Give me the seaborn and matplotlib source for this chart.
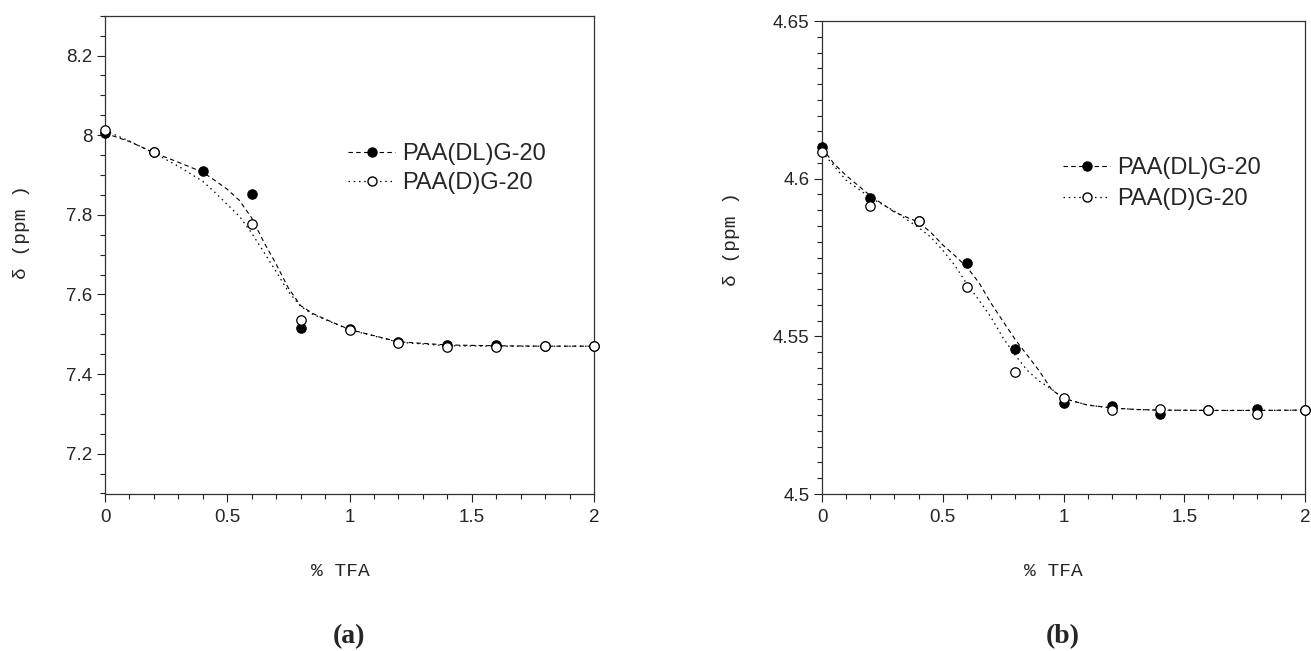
import numpy as np
import pandas as pd
import seaborn as sns
import matplotlib
matplotlib.use("Agg")
import matplotlib.pyplot as plt
from matplotlib.lines import Line2D
from matplotlib.ticker import MultipleLocator, FuncFormatter

# ---------------- data ----------------
tfa = [0.0, 0.2, 0.4, 0.6, 0.8, 1.0, 1.2, 1.4, 1.6, 1.8, 2.0]

a_dl = [8.005, 7.958, 7.910, 7.853, 7.515, 7.513, 7.480, 7.474, 7.474, 7.470, 7.470]
a_d = [8.013, 7.958, np.nan, 7.777, 7.537, 7.510, 7.479, 7.468, 7.468, 7.470, 7.470]

b_dl = [4.6100, 4.5940, 4.5866, 4.5731, 4.5460, 4.5287, 4.5279, 4.5254, 4.5266, 4.5270, 4.5266]
b_d = [4.6085, 4.5913, 4.5866, 4.5657, 4.5388, 4.5303, 4.5266, 4.5268, 4.5266, 4.5253, 4.5266]

# fitted curves as drawn in the picture
a_fit_x = [0, 0.1, 0.2, 0.3, 0.4, 0.45, 0.5, 0.55, 0.6, 0.65, 0.7, 0.75, 0.8, 0.85,
           0.9, 1.0, 1.2, 1.4, 1.6, 1.8, 2.0]
a_fit_dl = [8.005, 7.984, 7.956, 7.932, 7.907, 7.886, 7.864, 7.836, 7.792, 7.731, 7.676,
            7.616, 7.572, 7.552, 7.538, 7.512, 7.481, 7.473, 7.471, 7.470, 7.470]
a_fit_d = [8.012, 7.985, 7.955, 7.922, 7.884, 7.856, 7.826, 7.796, 7.754, 7.706, 7.657,
           7.607, 7.570, 7.550, 7.537, 7.511, 7.480, 7.471, 7.470, 7.470, 7.470]

b_fit_x = [0, 0.05, 0.1, 0.2, 0.3, 0.4, 0.45, 0.5, 0.55, 0.6, 0.65, 0.7, 0.75, 0.8,
           0.85, 0.9, 0.95, 1.0, 1.1, 1.2, 1.3, 1.4, 1.6, 1.8, 2.0]
b_fit_dl = [4.6098, 4.6047, 4.6010, 4.5946, 4.5894, 4.5862, 4.5830, 4.5790, 4.5756,
            4.5720, 4.5670, 4.5605, 4.5547, 4.5490, 4.5440, 4.5390, 4.5332, 4.5303,
            4.5282, 4.5273, 4.5268, 4.5266, 4.5265, 4.5265, 4.5266]
b_fit_d = [4.6085, 4.6040, 4.5995, 4.5940, 4.5897, 4.5845, 4.5815, 4.5773, 4.5725,
           4.5666, 4.5615, 4.5560, 4.5495, 4.5440, 4.5392, 4.5358, 4.5333, 4.5303,
           4.5282, 4.5273, 4.5268, 4.5266, 4.5265, 4.5265, 4.5266]

labels = ["PAA(DL)G-20", "PAA(D)G-20"]
x_label = "% TFA"
y_label = "δ (ppm )"
panel_tags = ["(a)", "(b)"]

# ---------------- styling ----------------
sns.set_theme(style="white")
plt.rcParams["font.family"] = ["Liberation Sans", "DejaVu Sans"]
plt.rcParams["xtick.direction"] = "out"
plt.rcParams["ytick.direction"] = "out"

W, H = 1311, 651
fig = plt.figure(figsize=(W / 100, H / 100), dpi=100)


def px_rect(x0, y0, x1, y1):
    return [x0 / W, 1 - y1 / H, (x1 - x0) / W, (y1 - y0) / H]


ax_a = fig.add_axes(px_rect(105, 15.7, 594, 493.5))
ax_b = fig.add_axes(px_rect(822, 21, 1305, 494))

dash_ls = (0, (4.0, 3.0))
dot_ls = (0, (1.2, 3.0))
ms_area = 46


def draw(ax, fx, fdl, fd, ydl, yd):
    sns.lineplot(x=fx, y=fdl, ax=ax, color="black", lw=0.8, linestyle=dash_ls,
                 sort=False, estimator=None, zorder=2)
    sns.lineplot(x=fx, y=fd, ax=ax, color="black", lw=0.9, linestyle=dot_ls,
                 sort=False, estimator=None, zorder=2)
    df = pd.DataFrame({"x": tfa, "dl": ydl, "d": yd})
    sns.scatterplot(data=df, x="x", y="dl", ax=ax, color="black", edgecolor="black",
                    s=ms_area, linewidth=0.8, zorder=3, clip_on=False)
    sns.scatterplot(data=df.dropna(), x="x", y="d", ax=ax, color="white", edgecolor="black",
                    s=ms_area, linewidth=0.9, zorder=4, clip_on=False)


draw(ax_a, a_fit_x, a_fit_dl, a_fit_d, a_dl, a_d)
draw(ax_b, b_fit_x, b_fit_dl, b_fit_d, b_dl, b_d)

ax_a.set_xlim(0, 2)
ax_a.set_ylim(7.1, 8.3)
ax_b.set_xlim(0, 2)
ax_b.set_ylim(4.5, 4.65)

fmt = FuncFormatter(lambda v, p: f"{v:g}")
for ax, ymaj, ymin in [(ax_a, 0.2, 0.05), (ax_b, 0.05, 0.005)]:
    ax.xaxis.set_major_locator(MultipleLocator(0.5))
    ax.xaxis.set_minor_locator(MultipleLocator(0.1))
    ax.yaxis.set_major_locator(MultipleLocator(ymaj))
    ax.yaxis.set_minor_locator(MultipleLocator(ymin))
    ax.xaxis.set_major_formatter(fmt)
    ax.yaxis.set_major_formatter(fmt)
    ax.tick_params(which="major", length=6, width=0.8, color="#222222",
                   labelsize=13.5, pad=3, bottom=True, left=True, top=False, right=False)
    ax.tick_params(which="minor", length=3.5, width=0.8, color="#222222",
                   bottom=True, left=True, top=False, right=False)
    ax.tick_params(axis="x", which="major", pad=5)
    for s in ax.spines.values():
        s.set_visible(True)
        s.set_color("#333333")
        s.set_linewidth(0.9)
    ax.set_xlabel("")
    ax.set_ylabel("")
    ax.set_facecolor("white")

handles = [
    Line2D([0], [0], color="black", lw=0.8, linestyle=dash_ls, marker="o",
           markersize=6.5, markerfacecolor="black", markeredgecolor="black"),
    Line2D([0], [0], color="black", lw=0.9, linestyle=dot_ls, marker="o",
           markersize=6.5, markerfacecolor="white", markeredgecolor="black"),
]
for ax, anchor, sp in [(ax_a, (0.497, 0.680), 0.32), (ax_b, (0.499, 0.656), 0.4)]:
    ax.legend(handles=handles, labels=labels, loc="center left", bbox_to_anchor=anchor,
              frameon=False, fontsize=17, handlelength=2.0, handletextpad=0.3,
              borderpad=0, borderaxespad=0, labelspacing=sp)

mono = ["Liberation Mono", "DejaVu Sans Mono"]
fig.text(22 / W, 1 - 232 / H, y_label, rotation=90, ha="center", va="center",
         fontsize=14, family=mono)
fig.text(732 / W, 1 - 239 / H, y_label, rotation=90, ha="center", va="center",
         fontsize=14, family=mono)
fig.text(340 / W, 1 - 571 / H, x_label, ha="center", va="center", fontsize=14, family=mono)
fig.text(1053 / W, 1 - 571 / H, x_label, ha="center", va="center", fontsize=14, family=mono)

serif = ["Liberation Serif", "DejaVu Serif"]
fig.text(349 / W, 1 - 637 / H, panel_tags[0], ha="center", va="center", fontsize=20,
         weight="bold", family=serif)
fig.text(1063 / W, 1 - 637 / H, panel_tags[1], ha="center", va="center", fontsize=20,
         weight="bold", family=serif)

fig.savefig("out.png", dpi=100, facecolor="white")
